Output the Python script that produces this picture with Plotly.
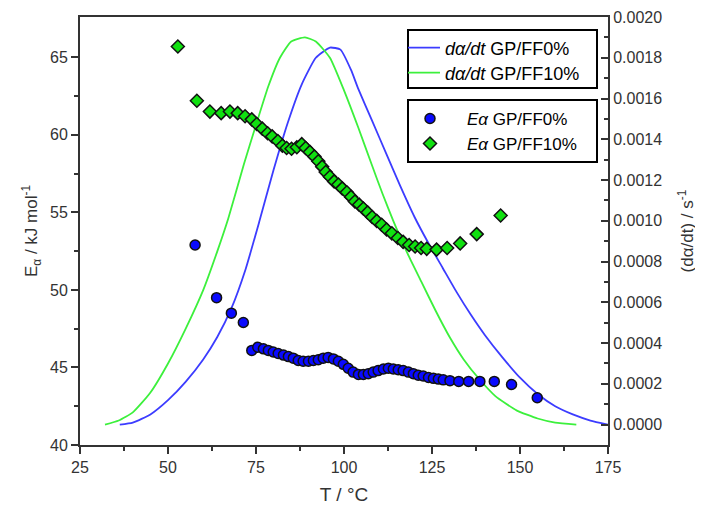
import plotly.graph_objects as go

# ---- Activation energy (left axis) ----
T_E_ff0 = [57.7, 63.8, 68.0, 71.4, 73.8, 75.5, 77.1, 78.5, 79.9, 81.3, 82.8, 84.2, 85.6, 87.0,
           88.4, 89.9, 91.3, 92.7, 94.1, 95.5, 97.0, 98.4, 99.8, 101.2, 102.6, 104.1, 105.5,
           106.9, 108.3, 109.7, 111.2, 112.6, 114.0, 115.4, 116.8, 118.3, 119.7, 121.1, 122.5,
           124.0, 125.4, 126.8, 128.2, 130.1, 132.6, 135.4, 138.6, 142.7, 147.6, 154.9]
E_ff0 = [52.9, 49.5, 48.5, 47.9, 46.1, 46.3, 46.2, 46.1, 46.0, 45.9, 45.8, 45.7, 45.6, 45.45,
         45.4, 45.4, 45.45, 45.5, 45.6, 45.65, 45.55, 45.4, 45.2, 44.95, 44.7, 44.55, 44.55,
         44.6, 44.7, 44.8, 44.9, 44.95, 44.9, 44.85, 44.8, 44.7, 44.6, 44.5, 44.45,
         44.35, 44.3, 44.25, 44.2, 44.15, 44.1, 44.1, 44.1, 44.1, 43.9, 43.05]

T_E_ff10 = [52.8, 58.2, 61.9, 65.1, 67.6, 69.8, 71.9, 73.8, 75.2, 76.8, 78.3, 79.6, 81.2, 82.5,
            83.7, 85.1, 86.6, 88.0, 89.1, 90.3, 91.6, 92.7, 93.8, 94.8, 96.0, 97.2, 98.4, 99.5,
            100.8, 102.0, 103.1, 104.3, 105.5, 106.7, 108.0, 109.3, 110.7, 112.1, 113.6, 115.3,
            116.8, 118.5, 120.2, 121.9, 123.5, 126.3, 129.3, 133.0, 137.7, 144.5]
E_ff10 = [65.7, 62.2, 61.5, 61.4, 61.5, 61.4, 61.2, 61.0, 60.7, 60.4, 60.1, 59.9, 59.6, 59.3,
          59.15, 59.1, 59.2, 59.4, 59.15, 58.9, 58.6, 58.3, 57.95, 57.6, 57.3, 57.0, 56.8, 56.55,
          56.3, 56.0, 55.7, 55.5, 55.25, 55.0, 54.7, 54.45, 54.2, 53.9, 53.65, 53.35,
          53.1, 52.9, 52.8, 52.7, 52.65, 52.6, 52.7, 53.0, 53.6, 54.8]

# ---- Conversion rate (right axis) ----
T_r_ff0 = [36.3, 40, 45, 50, 55, 60, 64, 68, 72, 76, 80, 84, 88, 92, 96, 99, 102, 104, 108,
           112, 116, 120, 124, 128, 132, 136, 140, 145, 150, 155, 160, 165, 170, 175]
r_ff0 = [0.0, 0.00001, 0.00005, 0.00012, 0.00021, 0.00032, 0.00043, 0.00057, 0.00076, 0.00100,
         0.00125, 0.00148, 0.00167, 0.00180, 0.00185, 0.00184, 0.00174, 0.00165, 0.00149,
         0.00133, 0.00117, 0.00102, 0.00089, 0.00077, 0.00065, 0.00054, 0.00044, 0.00033,
         0.00023, 0.00015, 0.00009, 0.00005, 0.00002, 0.0]

T_r_ff10 = [32.1, 36, 40, 44.9, 50, 55, 60, 64, 67.1, 71.6, 75, 78.5, 81.8, 85, 88.9, 92, 96,
            100, 104, 108, 111, 114, 118.3, 122, 126, 130, 134, 138.6, 143, 149, 155, 160, 166]
r_ff10 = [0.0, 0.00002, 0.00006, 0.000155, 0.00030, 0.00047, 0.00066, 0.00085, 0.00101,
          0.00128, 0.00147, 0.00166, 0.00180, 0.00188, 0.00190, 0.00188, 0.00180, 0.00164,
          0.00146, 0.00127, 0.00113, 0.00100, 0.00083, 0.00070, 0.00056, 0.00043, 0.00032,
          0.00022, 0.00014, 0.00007, 0.00003, 0.00001, 0.0]

names_rate = ["<i>dα/dt</i> GP/FF0%", "<i>dα/dt</i> GP/FF10%"]
names_E = ["<i>Eα</i> GP/FF0%", "<i>Eα</i> GP/FF10%"]

BLUE_LINE = "#3c3cff"
GREEN_LINE = "#3cf03c"
BLUE = "#0a0aff"
GREEN = "#10e010"
AX = "#333333"
FONT = "Liberation Sans, Arial, sans-serif"

# The page body adds an 8 px offset; work in page pixels and convert.
OFF = 8
W, H = 703 - OFF, 510 - OFF
PL, PR, PT, PB = 80 - OFF, 608 - OFF, 17 - OFF, 445 - OFF   # plot area in figure pixels
def px(x):   # page x -> paper
    return (x - OFF - PL) / (PR - PL)
def py(y):   # page y -> paper
    return (PB - (y - OFF)) / (PB - PT)

fig = go.Figure()
fig.add_trace(go.Scatter(x=T_r_ff0, y=r_ff0, mode="lines", name=names_rate[0],
                         line=dict(color=BLUE_LINE, width=1.8, shape="spline", smoothing=0.5),
                         yaxis="y", legend="legend", showlegend=True))
fig.add_trace(go.Scatter(x=T_r_ff10, y=r_ff10, mode="lines", name=names_rate[1],
                         line=dict(color=GREEN_LINE, width=1.8, shape="spline", smoothing=0.5),
                         yaxis="y", legend="legend2", showlegend=True))
fig.add_trace(go.Scatter(x=T_E_ff0, y=E_ff0, mode="markers", name=names_E[0],
                         marker=dict(symbol="circle", size=10, color=BLUE,
                                     line=dict(color="#111111", width=1.5)),
                         yaxis="y2", legend="legend3", showlegend=True))
fig.add_trace(go.Scatter(x=T_E_ff10, y=E_ff10, mode="markers", name=names_E[1],
                         marker=dict(symbol="diamond", size=10, color=GREEN,
                                     line=dict(color="#111111", width=1.5)),
                         yaxis="y2", legend="legend4", showlegend=True))

tickfont = dict(family=FONT, size=16, color=AX)

def leg(xpage, ypage, iw, size):
    return dict(x=px(xpage), y=py(ypage), xanchor="left", yanchor="middle", visible=True,
                bgcolor="rgba(0,0,0,0)", borderwidth=0, itemwidth=iw,
                font=dict(family=FONT, size=size, color="black"))

fig.update_layout(
    width=W, height=H, autosize=False, showlegend=True,
    margin=dict(l=PL, r=W - PR, t=PT, b=H - PB, pad=0),
    paper_bgcolor="white", plot_bgcolor="white",
    font=dict(family=FONT, color="black"),
    xaxis=dict(range=[25, 175], tickmode="array", tickvals=[25, 50, 75, 100, 125, 150, 175],
               ticks="outside", ticklen=7, tickwidth=2, tickcolor=AX, automargin=False,
               minor=dict(tickvals=[37.5, 62.5, 87.5, 112.5, 137.5, 162.5], ticks="outside",
                          ticklen=4, tickwidth=2, tickcolor=AX),
               showline=True, linecolor=AX, linewidth=2, mirror=True,
               showgrid=False, zeroline=False, tickfont=tickfont,
               title=dict(text="T / °C", font=dict(family=FONT, size=19, color=AX), standoff=12)),
    yaxis=dict(range=[-0.0001, 0.002], side="right", automargin=False,
               tickmode="array", tickvals=[i * 0.0002 for i in range(11)],
               tickformat=".4f", ticks="inside", ticklen=7, tickwidth=2, tickcolor=AX,
               minor=dict(tickvals=[0.0001 + i * 0.0002 for i in range(10)], ticks="inside",
                          ticklen=4, tickwidth=2, tickcolor=AX),
               showline=True, linecolor=AX, linewidth=2,
               showgrid=False, zeroline=False, tickfont=tickfont,
               title=dict(text="(dα/dt) / s<sup>-1</sup>", font=dict(family=FONT, size=17, color=AX),
                          standoff=20)),
    yaxis2=dict(range=[40, 67.6], side="left", overlaying="y", automargin=False,
                tickmode="array", tickvals=[40, 45, 50, 55, 60, 65],
                ticks="outside", ticklen=7, tickwidth=2, tickcolor=AX,
                minor=dict(tickvals=[42.5, 47.5, 52.5, 57.5, 62.5], ticks="outside",
                           ticklen=4, tickwidth=2, tickcolor=AX),
                showline=True, linecolor=AX, linewidth=2,
                showgrid=False, zeroline=False, tickfont=tickfont,
                title=dict(text="E<sub>α</sub> / kJ mol<sup>-1</sup>",
                           font=dict(family=FONT, size=17, color=AX), standoff=8)),
    legend=leg(403, 48, 32, 18),
    legend2=leg(403, 73, 32, 18),
    legend3=leg(393, 119, 64, 17),
    legend4=leg(393, 144, 64, 17),
    shapes=[
        dict(type="rect", xref="paper", yref="paper", x0=px(408), x1=px(597), y0=py(88), y1=py(30),
             line=dict(color="black", width=2), fillcolor="white", layer="above"),
        dict(type="rect", xref="paper", yref="paper", x0=px(408), x1=px(597), y0=py(162), y1=py(100),
             line=dict(color="black", width=2), fillcolor="white", layer="above"),
    ],
)

fig.write_html("out.html")
